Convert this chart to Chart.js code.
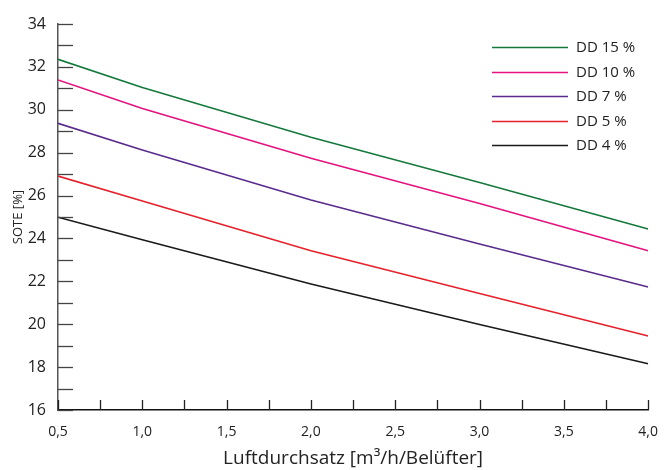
<!DOCTYPE html>
<html>
<head>
<meta charset="utf-8">
<script src="https://cdn.jsdelivr.net/npm/chart.js@4.4.0/dist/chart.umd.min.js"></script>
<style>
  html, body { margin: 0; padding: 0; background: #fff; }
  #wrap { width: 672px; height: 470px; position: relative; }
</style>
</head>
<body>
<div id="wrap"><canvas id="sote-chart"></canvas></div>
<script>
// Luftdurchsatz [m3/h/Belüfter]
const airflow = [0.5, 1.0, 2.0, 3.0, 4.0];

// SOTE [%] per Diffusordichte
const dd15 = [32.35, 31.04, 28.72, 26.61, 24.44];
const dd10 = [31.39, 30.06, 27.74, 25.63, 23.43];
const dd7 = [29.37, 28.12, 25.79, 23.74, 21.74];
const dd5 = [26.91, 25.75, 23.43, 21.43, 19.45];
const dd4 = [24.99, 23.94, 21.88, 19.99, 18.16];

const seriesLabels = ["DD 15 %", "DD 10 %", "DD 7 %", "DD 5 %", "DD 4 %"];
const seriesColors = ["#16793c", "#e6127f", "#5a2b8f", "#e8202a", "#1a1a1a"];

const fontFamily = "'Open Sans', 'Noto Sans', sans-serif";

function toPoints(values) {
    return values.map((v, i) => ({ x: airflow[i], y: v }));
}

const datasets = [dd15, dd10, dd7, dd5, dd4].map((values, i) => ({
    label: seriesLabels[i],
    data: toPoints(values),
    borderColor: seriesColors[i],
    backgroundColor: seriesColors[i],
    borderWidth: 1.6,
    pointRadius: 0,
    tension: 0,
    fill: false
}));

// tick marks drawn inside the plot, like the original figure
const innerTicks = {
    id: "innerTicks",
    afterDatasetsDraw(chart) {
        const c = chart.ctx;
        const area = chart.chartArea;
        const xs = chart.scales.x;
        const ys = chart.scales.y;
        c.save();
        c.strokeStyle = "#444";
        c.lineWidth = 1.3;
        ys.ticks.forEach(t => {
            const y = Math.round(ys.getPixelForValue(t.value)) + 0.5;
            c.beginPath();
            c.moveTo(area.left, y);
            c.lineTo(area.left + 15, y);
            c.stroke();
        });
        c.strokeStyle = "#222";
        xs.ticks.forEach(t => {
            const x = Math.round(xs.getPixelForValue(t.value)) + 0.5;
            c.beginPath();
            c.moveTo(x, area.bottom);
            c.lineTo(x, area.bottom - 10);
            c.stroke();
        });
        c.restore();
    }
};

// legend box in the top right corner
const lineLegend = {
    id: "lineLegend",
    afterDraw(chart) {
        const c = chart.ctx;
        const left = 492;
        const top = 47;
        const rowH = 24.5;
        c.save();
        c.font = "15px " + fontFamily;
        c.textBaseline = "middle";
        c.fillStyle = "#222";
        chart.data.datasets.forEach((ds, i) => {
            const y = Math.round(top + i * rowH) + 0.5;
            c.strokeStyle = ds.borderColor;
            c.lineWidth = 1.6;
            c.beginPath();
            c.moveTo(left, y);
            c.lineTo(left + 76, y);
            c.stroke();
            c.fillText(ds.label, left + 84, y);
        });
        c.restore();
    }
};

const ctx = document.getElementById("sote-chart").getContext("2d");
new Chart(ctx, {
    type: "line",
    data: { datasets: datasets },
    options: {
        responsive: true,
        maintainAspectRatio: false,
        animation: false,
        layout: { padding: { left: 0, right: 14, top: 24, bottom: 0 } },
        plugins: {
            legend: { display: false },
            tooltip: { enabled: false }
        },
        scales: {
            x: {
                type: "linear",
                min: 0.5,
                max: 4.0,
                afterFit(scale) { scale.height = 60; },
                grid: { display: false, drawTicks: false },
                border: { display: true, color: "#111", width: 1.5 },
                ticks: {
                    stepSize: 0.25,
                    autoSkip: false,
                    maxRotation: 0,
                    padding: 14,
                    color: "#222",
                    font: { family: fontFamily, size: 14 },
                    callback: v => (Math.round(v * 100) % 50 === 0) ? v.toFixed(1).replace(".", ",") : ""
                },
                title: {
                    display: true,
                    text: "Luftdurchsatz [m\u00b3/h/Belüfter]",
                    color: "#222",
                    font: { family: fontFamily, size: 19 },
                    padding: { top: 0, bottom: 0 }
                }
            },
            y: {
                min: 16,
                max: 34,
                afterFit(scale) { scale.width = 58; },
                grid: { display: false, drawTicks: false },
                border: { display: true, color: "#555", width: 1.5 },
                ticks: {
                    stepSize: 1,
                    autoSkip: false,
                    padding: 12,
                    color: "#222",
                    font: { family: fontFamily, size: 16 },
                    callback: v => (v % 2 === 0) ? v : ""
                },
                title: {
                    display: true,
                    text: "SOTE [%]",
                    color: "#222",
                    font: { family: fontFamily, size: 13 },
                    padding: { top: 10, bottom: 0 }
                }
            }
        }
    },
    plugins: [innerTicks, lineLegend]
});
</script>
</body>
</html>
